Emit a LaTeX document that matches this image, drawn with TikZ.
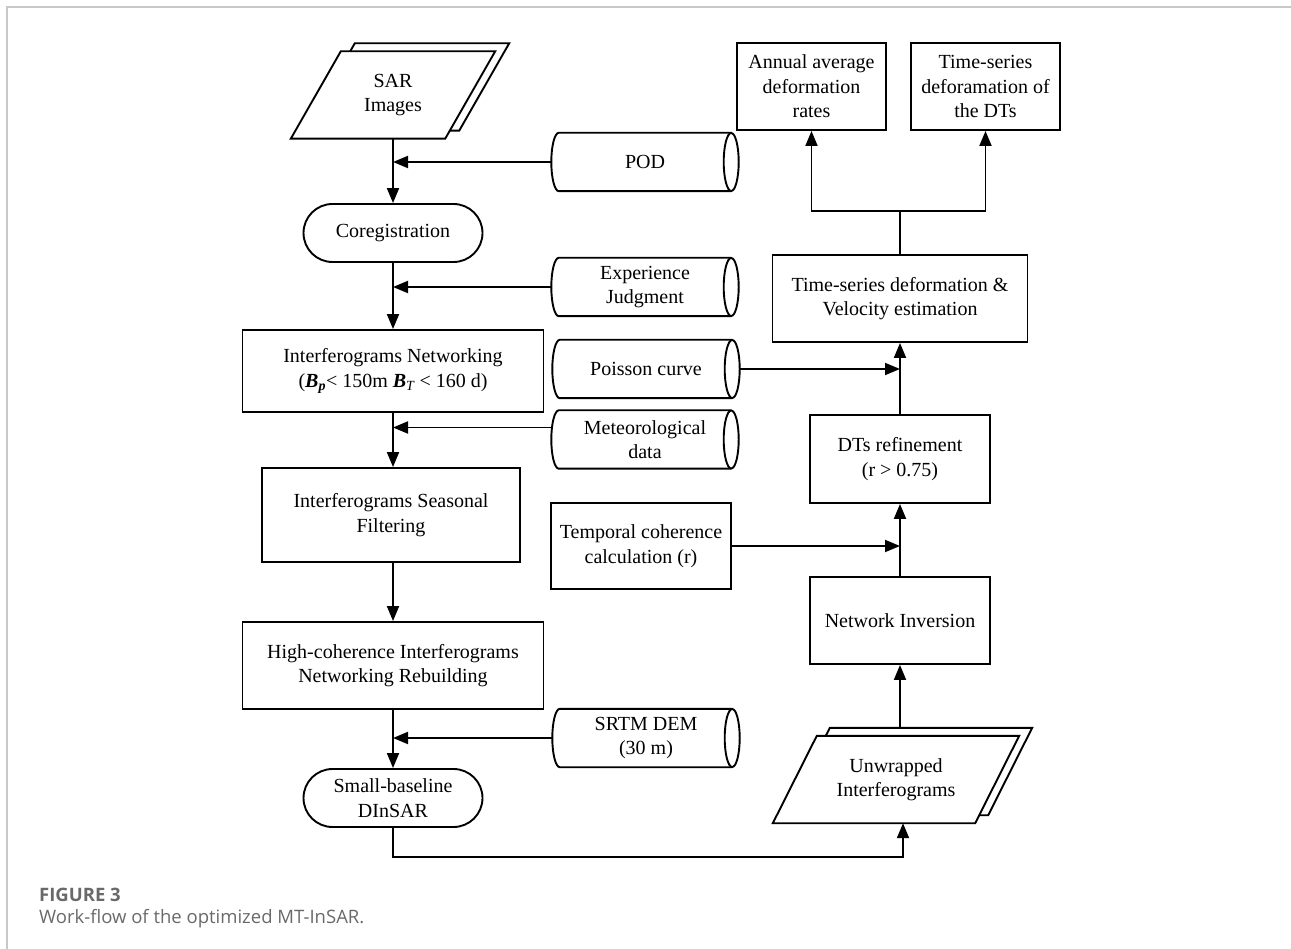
\documentclass[tikz,border=0pt]{standalone}
\usepackage{fontspec}
\setmainfont{Liberation Serif}
\newfontfamily\capfont{Open Sans}
\usetikzlibrary{shapes.geometric,arrows.meta,backgrounds}
\definecolor{capgray}{RGB}{105,105,105}
\definecolor{framegray}{RGB}{200,200,200}
\newcommand\paragram[4]{%
  \draw[line width=1.9pt, fill=white]
    ([xshift=#3,yshift=#4]#1.north west) --
    ([xshift=#2+#3,yshift=#4]#1.north east) --
    ([xshift=#3,yshift=#4]#1.south east) --
    ([xshift=-#2+#3,yshift=#4]#1.south west) -- cycle;}
% horizontal cylinder outline round a named node (rx = 7.5pt, ry = 29pt)
\newcommand\cylout[1]{%
  \draw[line width=1.9pt]
    ([xshift=-7.5pt]#1.south east) -- ([xshift=7.5pt]#1.south west)
    .. controls ([xshift=3.36pt]#1.south west) and ([yshift=-16pt]#1.west) .. (#1.west)
    .. controls ([yshift=16pt]#1.west) and ([xshift=3.36pt]#1.north west) .. ([xshift=7.5pt]#1.north west)
    -- ([xshift=-7.5pt]#1.north east);
  \draw[line width=1.9pt] ([xshift=-7.5pt]#1.east) ellipse [x radius=7.5pt, y radius=29pt];}
\begin{document}
\begin{tikzpicture}[x=1pt,y=-1pt,
  every node/.style={font=\fontsize{20}{24.5}\selectfont, align=center, inner sep=0pt},
  arr/.style={line width=1.9pt, -{Triangle[length=15pt,width=12pt]}},
  box/.style 2 args={draw, line width=1.9pt, rectangle, minimum width=#1, minimum height=#2},
  stadium/.style 2 args={box={#1}{#2}, rounded corners=29pt},
  para/.style 2 args={rectangle, minimum width=#1, minimum height=#2},
  can/.style={rectangle, minimum width=187, minimum height=58}]
\useasboundingbox (0,0) rectangle (1291,949);
\draw[framegray, line width=1.5pt] (7,949) -- (7,7) -- (1291,7);

% left column
\node[para={104}{87}] (sar) at (393,95) {SAR\\Images};
\node[stadium={179}{58}] (coreg) at (393,233) {Coregistration};
\node[box={301}{82}] (netw) at (393,371) {Interferograms Networking\\({\bfseries\itshape B\textsubscript{p}}< 150m {\bfseries\itshape B}\textsubscript{\itshape T} < 160 d)};
\node[box={258}{94}] (season) at (391,515) {Interferograms Seasonal\\Filtering};
\node[box={301}{87}] (highc) at (393,665.5) {High-coherence Interferograms\\Networking Rebuilding};
\node[stadium={179}{58}] (small) at (393,798) {Small-baseline\\DInSAR};

% middle column
\node[can] (pod) at (645,162) {POD};
\node[can] (exp) at (645,287) {Experience\\Judgment};
\node[can] (poisson) at (646,369) {Poisson curve};
\node[can] (met) at (645,439.5) {Meteorological\\data};
\node[box={180}{86}] (temporal) at (641,546) {Temporal coherence\\calculation (r)};
\node[can] (srtm) at (646,738) {SRTM DEM\\(30 m)};
\cylout{pod}
\cylout{exp}
\cylout{poisson}
\cylout{met}
\cylout{srtm}

% right column
\node[box={149}{87}] (annual) at (811.5,86.5) {Annual average\\deformation\\rates};
\node[box={149}{87}] (dtsbox) at (985.5,86.5) {Time-series\\deforamation of\\the DTs};
\node[box={255}{87}] (tsd) at (900,298.5) {Time-series deformation \&\\Velocity estimation};
\node[box={180}{88}] (refine) at (900,459) {DTs refinement\\(r > 0.75)};
\node[box={180}{87}] (netinv) at (900,620.5) {Network Inversion};
\node[para={158}{87}] (unw) at (896,779.5) {Unwrapped\\Interferograms};

\begin{scope}[on background layer]
  \paragram{sar}{50pt}{14pt}{8pt}
  \paragram{sar}{50pt}{0pt}{0pt}
  \paragram{unw}{44pt}{13pt}{8pt}
  \paragram{unw}{44pt}{0pt}{0pt}
\end{scope}

% left column flow
\draw[arr] (sar.south) -- (sar.south |- coreg.north);
\draw[arr] (pod.west) -- (pod.west -| coreg.north);
\draw[arr] (coreg.south) -- (coreg.south |- netw.north);
\draw[arr] (exp.west) -- (exp.west -| coreg.south);
\draw[arr] (netw.south) -- (netw.south |- season.north);
\draw[arr] ([yshift=12pt]met.west) -- ([yshift=12pt]met.west -| netw.south);
\draw[arr] (highc.north |- season.south) -- (highc.north);
\draw[arr] (highc.south) -- (highc.south |- small.north);
\draw[arr] (srtm.west) -- (srtm.west -| highc.south);
\draw[arr] (small.south) -- ++(0,29) -| ([xshift=7pt]unw.south);

% right column flow
\draw[arr] ([xshift=4pt,yshift=8pt]unw.north) -- (netinv.south);
\draw[arr] (netinv.north) -- (refine.south);
\draw[arr] (temporal.east) -- (temporal.east -| netinv.north);
\draw[arr] (refine.north) -- (tsd.south);
\draw[arr] (poisson.east) -- (poisson.east -| refine.north);
\draw[arr] (tsd.north) -- ++(0,-43) -| (annual.south);
\draw[arr] (tsd.north) -- ++(0,-43) -| (dtsbox.south);

% caption
\node[anchor=west, font=\capfont\bfseries\fontsize{18.5}{22}\selectfont, text=capgray] (figlabel) at (39,895) {FIGURE 3};
\node[anchor=west, font=\capfont\fontsize{18.5}{22}\selectfont, text=capgray] (figtext) at (39,919) {Work-flow of the optimized MT-InSAR.};
\end{tikzpicture}
\end{document}
